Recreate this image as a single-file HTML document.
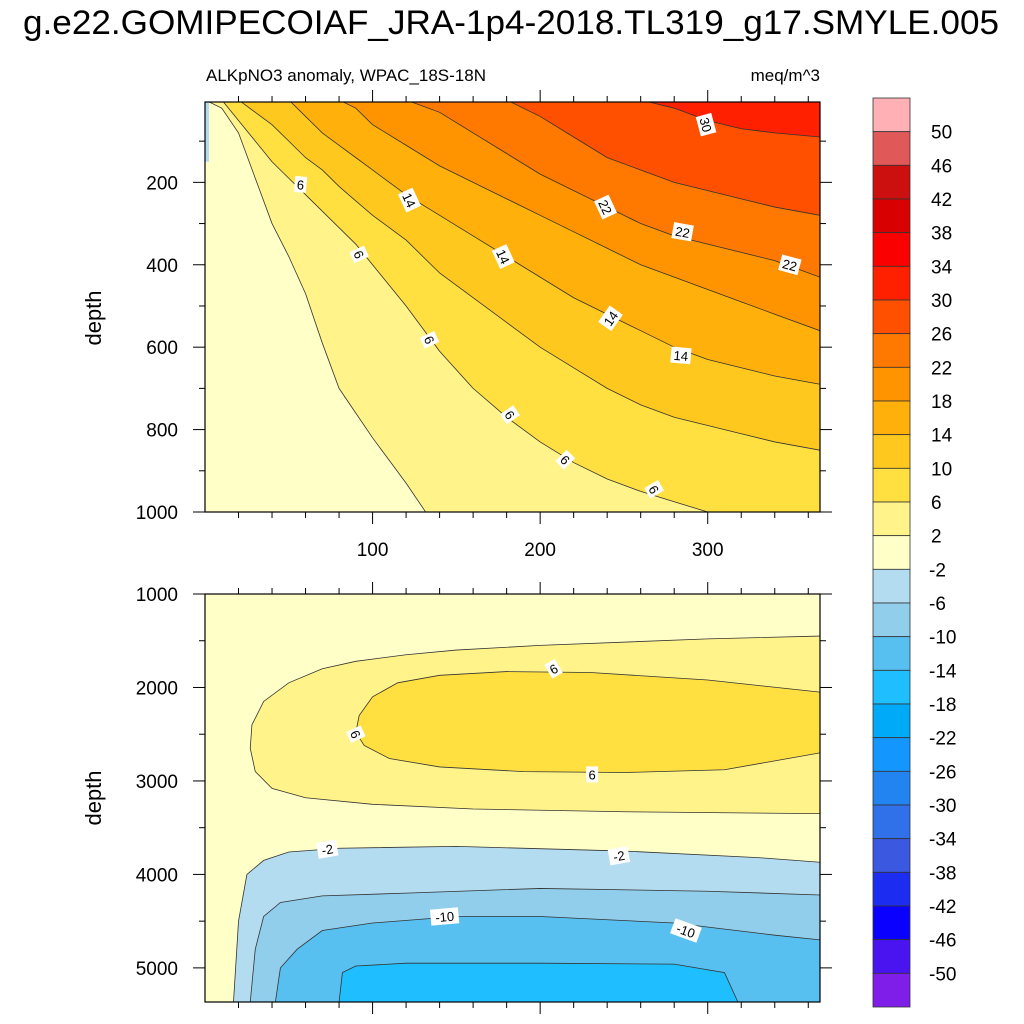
<!DOCTYPE html>
<html><head><meta charset="utf-8">
<style>
body{margin:0;background:#fff;}
svg{display:block;font-family:"Liberation Sans",sans-serif;}
</style></head>
<body>
<svg id="chart" width="1024" height="1024" viewBox="0 0 1024 1024" xmlns="http://www.w3.org/2000/svg">
<text x="511" y="34" font-size="34.5" text-anchor="middle" textLength="976" lengthAdjust="spacingAndGlyphs">g.e22.GOMIPECOIAF_JRA-1p4-2018.TL319_g17.SMYLE.005</text>
<text x="206" y="81" font-size="17">ALKpNO3 anomaly, WPAC_18S-18N</text>
<text x="820" y="81" font-size="17" text-anchor="end">meq/m^3</text>
<text transform="translate(101,318) rotate(-90)" font-size="22" text-anchor="middle">depth</text>
<text transform="translate(101,798) rotate(-90)" font-size="22" text-anchor="middle">depth</text>
<g id="topPanel"></g>
<g id="botPanel"></g>
<g id="cbar"></g>
</svg>
<script>
// ---- data ----
const cbLevels = [50,46,42,38,34,30,26,22,18,14,10,6,2,-2,-6,-10,-14,-18,-22,-26,-30,-34,-38,-42,-46,-50];
const cbColors = ["#ffb0b4","#e05858","#cc1010","#d80000","#fa0000","#ff2000","#ff5000","#ff7800","#ff9400","#ffb00a","#ffc81e","#ffe040","#fff38a","#ffffc8","#b4dcf0","#90ceec","#58c0f0","#1ebeff","#00aaf8","#1496ff","#2284f0","#3070e8","#3a58e0","#1c2cf0","#0a00ff","#4a14f0","#7f1ee8"];
const topLevels = [2,6,10,14,18,22,26,30];
const topDays = [0,10,20,30,40,50,60,70,80,90,100,120,140,160,180,200,220,240,260,280,300,320,340,367];
const topDepth2  = [0,20,80,190,300,380,470,590,700,760,820,930,1050,1100,1150,1200,1250,1300,1300,1300,1300,1300,1300,1300];
const topDepth6  = [0,0,50,100,150,190,230,270,310,350,400,500,610,700,770,830,880,920,950,975,1000,1030,1060,1100];
const topDepth10 = [0,0,0,30,60,100,140,170,210,245,280,340,420,480,540,600,650,700,740,770,790,810,830,850];
const topDepth14 = [0,0,0,0,0,0,40,80,110,140,170,230,280,330,380,430,480,520,560,600,630,650,670,690];
const topDepth18 = [0,0,0,0,0,0,0,0,0,20,60,110,160,200,240,280,320,360,400,430,460,490,520,560];
const topDepth22 = [0,0,0,0,0,0,0,0,0,0,0,0,30,80,130,180,220,260,300,330,350,370,390,430];
const topDepth26 = [0,0,0,0,0,0,0,0,0,0,0,0,0,0,0,40,90,140,170,200,220,240,260,280];
const topDepth30 = [0,0,0,0,0,0,0,0,0,0,0,0,0,0,0,0,0,0,0,20,50,70,80,90];
const botC2Days   = [367,300,200,150,120,90,70,50,35,28,27,30,40,60,100,160,250,367];
const botC2Depth  = [1450,1480,1550,1600,1650,1720,1800,1950,2150,2400,2650,2900,3080,3180,3250,3300,3330,3350];
const botC6Days   = [367,300,230,180,140,115,100,92,90,95,110,140,190,250,310,367];
const botC6Depth  = [2050,1920,1840,1830,1870,1950,2100,2300,2480,2620,2760,2850,2900,2910,2880,2700];
const botCm2Days  = [17,20,25,35,50,80,150,250,330,367];
const botCm2Depth = [5365,4500,4000,3850,3760,3720,3700,3750,3820,3870];
const botCm6Days  = [27,30,35,45,70,120,200,300,367];
const botCm6Depth = [5365,4800,4450,4300,4230,4200,4150,4180,4220];
const botCm10Days = [42,45,55,70,100,150,200,280,340,367];
const botCm10Depth= [5365,5000,4800,4600,4520,4450,4450,4520,4650,4700];
const botCm14Days = [80,82,90,120,200,280,310,318];
const botCm14Depth= [5365,5050,4980,4950,4950,4960,5050,5365];
const topLabelText = ["30","22","22","22","14","14","14","14","6","6","6","6","6","6"];
const topLabelDay  = [299,239,285,349,122,178,242,284,57,92,134,182,215,268];
const topLabelDepth= [60,260,320,400,243,380,530,620,205,375,582,764,873,945];
const topLabelRot  = [75,65,10,15,65,65,-55,5,5,65,65,55,45,60];
const botLabelText = ["6","6","6","-2","-2","-10","-10"];
const botLabelDay  = [208,90,231,73,247,143,287];
const botLabelDepth= [1800,2500,2930,3730,3800,4450,4600];
const botLabelRot  = [-30,65,0,-10,-10,-5,20];

const NS="http://www.w3.org/2000/svg";
const X0=205,X1=820,dayMax=367;
const xs=d=>X0+(d)*(X1-X0)/dayMax;
const T={y0:102,y1:512,d0:5,d1:1000};
const B={y0:594,y1:1002,d0:1000,d1:5365};
const ys=(P,d)=>P.y0+(d-P.d0)*(P.y1-P.y0)/(P.d1-P.d0);
function el(tag,attrs,parent){const e=document.createElementNS(NS,tag);for(const k in attrs)e.setAttribute(k,attrs[k]);parent.appendChild(e);return e;}
function colorFor(v){
  for(let i=0;i<cbLevels.length;i++){if(v>=cbLevels[i])return cbColors[i];}
  return cbColors[cbColors.length-1];
}
const tg=document.getElementById('topPanel');
const bg=document.getElementById('botPanel');
const defs=el('defs',{},document.getElementById('chart'));
const cp1=el('clipPath',{id:'c1'},defs);el('rect',{x:X0,y:T.y0,width:X1-X0,height:T.y1-T.y0},cp1);
const cp2=el('clipPath',{id:'c2'},defs);el('rect',{x:X0,y:B.y0,width:X1-X0,height:B.y1-B.y0},cp2);
const tClip=el('g',{'clip-path':'url(#c1)'},tg);
const bClip=el('g',{'clip-path':'url(#c2)'},bg);

const bgr=el('rect',{x:X0,y:T.y0,width:X1-X0,height:T.y1-T.y0,fill:colorFor(0)},tClip);


const topArrays=[topDepth2,topDepth6,topDepth10,topDepth14,topDepth18,topDepth22,topDepth26,topDepth30];
topLevels.forEach((lv,i)=>{
  const dep=topArrays[i];
  let pts=topDays.map((d,j)=>xs(d)+','+ys(T,dep[j]));
  const poly=`M${xs(0)},${T.y0-2} L${pts.join(' L')} L${xs(dayMax)},${T.y0-2} Z`;
  const p=el('path',{d:poly,fill:colorFor(lv+1),stroke:'none'},tClip);
  
  
  const l=el('polyline',{points:pts.join(' '),fill:'none',stroke:'#333','stroke-width':0.8},tClip);
  
  
});
const tlb=el('rect',{x:X0,y:T.y0,width:4,height:ys(T,150)-T.y0,fill:colorFor(-3)},tClip);



const bbg=el('rect',{x:X0,y:B.y0,width:X1-X0,height:B.y1-B.y0,fill:colorFor(0)},bClip);


function closedShape(days,deps,val,name,closeRight){
  let pts=days.map((d,j)=>xs(d)+','+ys(B,deps[j]));
  let extra=closeRight?` L${X1+5},${ys(B,deps[deps.length-1])} L${X1+5},${B.y1+5} L${xs(days[0])},${B.y1+5}`:` L${X1+5},${ys(B,deps[deps.length-1])} L${X1+5},${ys(B,deps[0])}`;
  const p=el('path',{d:'M'+pts.join(' L')+extra+' Z',fill:colorFor(val),stroke:'none'},bClip);
  
  
  const l=el('polyline',{points:pts.join(' '),fill:'none',stroke:'#333','stroke-width':0.8},bClip);
  
  
}
closedShape(botC2Days,botC2Depth,3,'bottom-level-2',false);
closedShape(botC6Days,botC6Depth,7,'bottom-level-6',false);
closedShape(botCm2Days,botCm2Depth,-3,'bottom-level-neg2',true);
closedShape(botCm6Days,botCm6Depth,-7,'bottom-level-neg6',true);
closedShape(botCm10Days,botCm10Depth,-11,'bottom-level-neg10',true);
{
  let pts=botCm14Days.map((d,j)=>xs(d)+','+ys(B,botCm14Depth[j]));
  const p=el('path',{d:'M'+pts.join(' L')+' Z',fill:colorFor(-15),stroke:'#333','stroke-width':0.8},bClip);
  
  
}

function label(g,P,txt,d,dep,rot,name){
  const x=xs(d),y=ys(P,dep);
  const grp=el('g',{transform:`translate(${x},${y}) rotate(${rot})`},g);
  
  
  const w=txt.length*8+4;
  el('rect',{x:-w/2,y:-8,width:w,height:16,fill:'#fff'},grp);
  const t=el('text',{x:0,y:5,'font-size':13,'text-anchor':'middle'},grp);
  t.textContent=txt;
}
topLabelText.forEach((t,i)=>label(tg,T,t,topLabelDay[i],topLabelDepth[i],topLabelRot[i],'top-contour-label'));
botLabelText.forEach((t,i)=>label(bg,B,t,botLabelDay[i],botLabelDepth[i],botLabelRot[i],'bottom-contour-label'));

function frame(g,P,yTicks,yMinor,xLabels,name){
  const r=el('rect',{x:X0,y:P.y0,width:X1-X0,height:P.y1-P.y0,fill:'none',stroke:'#000','stroke-width':1.2},g);
  
  
  yMinor.forEach(v=>{const y=ys(P,v);
    el('line',{x1:X0-6,x2:X0,y1:y,y2:y,stroke:'#000'},g);
    el('line',{x1:X1,x2:X1+6,y1:y,y2:y,stroke:'#000'},g);});
  yTicks.forEach(v=>{const y=ys(P,v);
    el('line',{x1:X0-12,x2:X0,y1:y,y2:y,stroke:'#000'},g);
    el('line',{x1:X1,x2:X1+12,y1:y,y2:y,stroke:'#000'},g);
    const t=el('text',{x:X0-27,y:y+7,'font-size':19,'text-anchor':'end'},g);
    
    
    t.textContent=v;});
  for(let d=20;d<dayMax;d+=20){const x=xs(d);const big=d%100===0;const L=big?12:6;
    el('line',{x1:x,x2:x,y1:P.y0-L,y2:P.y0,stroke:'#000'},g);
    el('line',{x1:x,x2:x,y1:P.y1,y2:P.y1+L,stroke:'#000'},g);
    if(big&&xLabels){const t=el('text',{x:x,y:P.y1+44,'font-size':19,'text-anchor':'middle'},g);
      
      
      t.textContent=d;}}
}
frame(tg,T,[200,400,600,800,1000],[100,300,500,700,900],true,'top');
frame(bg,B,[1000,2000,3000,4000,5000],[1500,2500,3500,4500],false,'bottom');

const cb=document.getElementById('cbar');
const cbX=873,cbW=37,cbY0=98,cbY1=1007,n=cbColors.length,h=(cbY1-cbY0)/n;
cbColors.forEach((c,i)=>{const r=el('rect',{x:cbX,y:cbY0+i*h,width:cbW,height:h,fill:c,stroke:'#333','stroke-width':0.8},cb);
  
  });
cbLevels.forEach((v,i)=>{const t=el('text',{x:v<0?929:931,y:cbY0+(i+1)*h+7,'font-size':19},cb);
  
  
  t.textContent=v;});
</script>
</body></html>
